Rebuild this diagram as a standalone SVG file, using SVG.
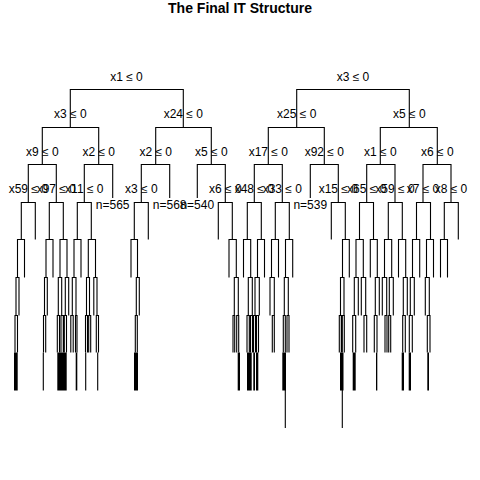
<svg xmlns="http://www.w3.org/2000/svg" width="480" height="480" viewBox="0 0 480 480">
<style>
.e{fill:none;stroke:#000;stroke-width:1.1}
.t{fill:none;stroke:#000;stroke-width:1.6}
.b{fill:#000}
text{font-family:"Liberation Sans",Arial,sans-serif;font-size:12px;fill:#000;text-anchor:middle}
.title{font-size:14px;font-weight:bold}
</style>
<rect width="480" height="480" fill="#fff"/>
<text class="title" x="240" y="13">The Final IT Structure</text>
<g id="connectors">
<!-- levels 0-3 -->
<path class="e" d="M70.3,127.5V89.5H183.3V127.5 M42.3,164.5V127.5H98.7V164.5 M155.7,164.5V127.5H211.3V164.5 M28.3,202.5V164.5H56.3V202.5 M84.3,202.5V164.5H112.7V198 M141.3,202.5V164.5H169.7V198 M197.3,198V164.5H225.3V202.5"/>
<path class="e" d="M296.7,127.5V89.5H409.3V127.5 M268.3,164.5V127.5H324.3V164.5 M380.3,164.5V127.5H437.3V164.5 M254.3,202.5V164.5H282.3V202.5 M310.3,198V164.5H338.3V202.5 M366.7,202.5V164.5H395V202.5 M423,202.5V164.5H451V202.5"/>
<path class="e" d="M21.3,239.5V202.5H35.3V239.5 M49.3,239.5V202.5H63.3V239.5 M77.3,239.5V202.5H91.3V239.5 M134.3,239.5V202.5H148.3V239.5 M218.3,239.5V202.5H232.3V239.5"/>
<path class="e" d="M247.3,239.5V202.5H261.3V239.5 M275.3,239.5V202.5H289.3V239.5 M331.3,239.5V202.5H345.3V239.5 M359.5,239.5V202.5H373.5V239.5 M388.3,239.5V202.5H402.3V239.5 M416.5,239.5V202.5H430.5V239.5 M444.3,239.5V202.5H458.3V239.5"/>
<!-- level 4 -->
<path class="e" d="M17.5,277.5V239.5H24.5V277.5 M46,277.5V239.5H53V277.5 M60,277.5V239.5H67V277.5 M74,277.5V239.5H81V277.5 M88.3,277.5V239.5H95.5V277.5 M131,277.5V239.5H137.5V277.5 M229,277.5V239.5H236.3V277.5"/>
<path class="e" d="M243.5,277.5V239.5H250.7V277.5 M257.5,277.5V239.5H264.5V277.5 M271.5,277.5V239.5H278.5V277.5 M285.5,277.5V239.5H292.7V277.5 M342.5,277.5V239.5H349.3V277.5 M356,277.5V239.5H363.3V277.5 M370.3,277.5V239.5H377.3V277.5 M384.5,277.5V239.5H391.7V277.5 M398.5,277.5V239.5H405.7V277.5 M412.5,277.5V239.5H419.7V277.5 M426.5,277.5V239.5H433.5V277.5 M440.5,277.5V239.5H447.5V277.5"/>
<!-- level 5 -->
<path class="e" d="M16,315.5V277.5H19V315.5 M44.5,315.5V277.5H47.3V315.5 M58.3,315.5V277.5H61.7V315.5 M65.3,315.5V277.5H68.7V315.5 M72.3,315.5V277.5H76V315.5 M86.5,315.5V277.5H89.5V315.5 M93.8,315.5V277.5H97V315.5 M136.3,315.5V277.5H139.3V315.5 M234.3,315.5V277.5H238.3V315.5"/>
<path class="e" d="M248.3,315.5V277.5H252.3V315.5 M255,315.5V277.5H259.3V315.5 M270,315.5V277.5H274.3V315.5 M284.3,315.5V277.5H288.3V315.5 M340.5,315.5V277.5H344V315.5 M354.3,315.5V277.5H358.3V315.5 M361.3,315.5V277.5H365.7V315.5 M375.3,315.5V277.5H379.3V315.5 M382.3,315.5V277.5H386.7V315.5 M389.3,315.5V277.5H393.3V315.5 M403.3,315.5V277.5H407.3V315.5 M410.3,315.5V277.5H414.3V315.5 M425.3,315.5V277.5H429.3V315.5"/>
<!-- level 6 -->
<path class="e" d="M15,352.5V315.5H17.5V352.5 M43.5,352.5V315.5H45.7V352.5 M57.3,352.5V315.5H59.5V352.5 M61,352.5V315.5H63.3V352.5 M64.3,352.5V315.5H66.5V352.5 M70.8,352.5V315.5H73.2V352.5 M75.5,352.5V315.5H77V352.5 M85.5,352.5V315.5H87.5V352.5 M88.7,352.5V315.5H90.7V352.5 M96.3,352.5V315.5H98.5V352.5 M135.3,352.5V315.5H137.3V352.5 M233,352.5V315.5H234.7V352.5 M236.7,352.5V315.5H238.7V352.5"/>
<path class="e" d="M247,352.5V315.5H249.3V352.5 M250.5,352.5V315.5H252.5V352.5 M253.5,352.5V315.5H255.5V352.5 M256.5,352.5V315.5H258.5V352.5 M272.3,352.5V315.5H274.3V352.5 M283.3,352.5V315.5H285.3V352.5 M287,352.5V315.5H289V352.5 M339.3,352.5V315.5H341.3V352.5 M342.3,352.5V315.5H344.3V352.5 M352.7,352.5V315.5H355.7V352.5 M364,352.5V315.5H366.7V352.5 M374.3,352.5V315.5H377V352.5 M385,352.5V315.5H387V352.5 M388.7,352.5V315.5H390.7V352.5 M402.7,352.5V315.5H405.3V352.5 M409.3,352.5V315.5H412.3V352.5 M427.3,352.5V315.5H430V352.5"/>
<!-- level 7 (dense) -->
<rect class="b" x="14" y="352.5" width="3.7" height="38"/>
<path class="e" d="M43.3,352.5V390.5 M85.7,352.5V390.5 M97.7,352.5V390.5"/>
<rect class="b" x="57.3" y="352.5" width="9.4" height="38"/>
<path class="t" d="M76.5,352.5V390.5"/>
<rect class="b" x="134" y="352.5" width="4" height="38"/>
<rect class="b" x="237.7" y="352.5" width="2.3" height="38"/>
<rect class="b" x="247" y="352.5" width="4.7" height="38"/>
<rect class="b" x="253.3" y="352.5" width="1.7" height="38"/>
<rect class="b" x="256" y="352.5" width="2.3" height="38"/>
<rect class="b" x="282.3" y="352.5" width="3.7" height="38"/>
<rect class="b" x="340" y="352.5" width="3.5" height="38"/>
<rect class="b" x="352.7" y="352.5" width="3" height="38"/>
<rect class="b" x="376" y="352.5" width="1.3" height="38"/>
<rect class="b" x="401.7" y="352.5" width="2.3" height="38"/>
<rect class="b" x="408.7" y="352.5" width="2.3" height="38"/>
<rect class="b" x="427.3" y="352.5" width="1.7" height="38"/>
<path class="e" d="M285.3,390V428 M342.3,390V428"/>
</g>
<g id="n-x1"><text x="126.5" y="81">x1 ≤ 0</text></g>
<g id="n-x3a"><text x="70.3" y="117.5">x3 ≤ 0</text></g>
<g id="n-x24"><text x="183.3" y="117.5">x24 ≤ 0</text></g>
<g id="n-x9"><text x="42.3" y="155.5">x9 ≤ 0</text></g>
<g id="n-x2a"><text x="98.7" y="155.5">x2 ≤ 0</text></g>
<g id="n-x2b"><text x="155.7" y="155.5">x2 ≤ 0</text></g>
<g id="n-x5a"><text x="211.3" y="155.5">x5 ≤ 0</text></g>
<g id="n-x59a"><text x="28.3" y="192.5">x59 ≤ 0</text></g>
<g id="n-x97"><text x="56.3" y="192.5">x97 ≤ 0</text></g>
<g id="n-x11"><text x="84.3" y="192.5">x11 ≤ 0</text></g>
<g id="n-x3b"><text x="141.3" y="192.5">x3 ≤ 0</text></g>
<g id="n-x6a"><text x="225.3" y="192.5">x6 ≤ 0</text></g>
<g id="leaf-565"><text x="112.7" y="208.5">n=565</text></g>
<g id="leaf-568"><text x="169.7" y="208.5">n=568</text></g>
<g id="leaf-540"><text x="197.3" y="208.5">n=540</text></g>
<g id="n-x3c"><text x="353" y="81">x3 ≤ 0</text></g>
<g id="n-x25"><text x="296.7" y="117.5">x25 ≤ 0</text></g>
<g id="n-x5b"><text x="409.3" y="117.5">x5 ≤ 0</text></g>
<g id="n-x17"><text x="268.3" y="155.5">x17 ≤ 0</text></g>
<g id="n-x92"><text x="324.3" y="155.5">x92 ≤ 0</text></g>
<g id="n-x1b"><text x="380.3" y="155.5">x1 ≤ 0</text></g>
<g id="n-x6b"><text x="437.3" y="155.5">x6 ≤ 0</text></g>
<g id="n-x48"><text x="254.3" y="192.5">x48 ≤ 0</text></g>
<g id="n-x33"><text x="282.3" y="192.5">x33 ≤ 0</text></g>
<g id="n-x15"><text x="338.3" y="192.5">x15 ≤ 0</text></g>
<g id="n-x65"><text x="366.7" y="192.5">x65 ≤ 0</text></g>
<g id="n-x59b"><text x="395" y="192.5">x59 ≤ 0</text></g>
<g id="n-x7"><text x="423" y="192.5">x7 ≤ 0</text></g>
<g id="n-x8"><text x="451" y="192.5">x8 ≤ 0</text></g>
<g id="leaf-539"><text x="310.3" y="208.5">n=539</text></g>
</svg>
